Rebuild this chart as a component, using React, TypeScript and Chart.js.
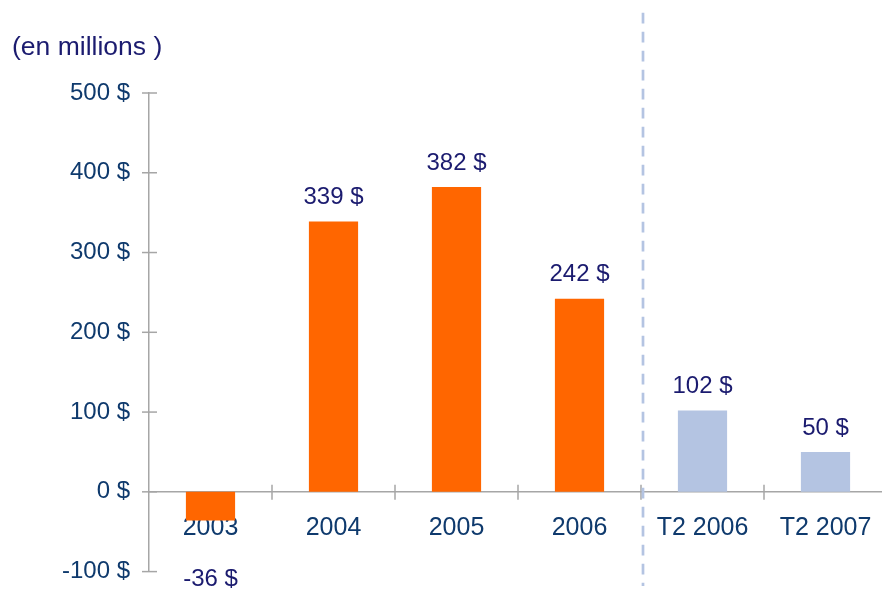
import React, { useEffect, useRef } from "react";
import { Chart, registerables } from "chart.js";

Chart.register(...registerables);

const categories = ["2003", "2004", "2005", "2006", "T2 2006", "T2 2007"];
const values = [-36, 339, 382, 242, 102, 50];
const valueLabels = ["-36 $", "339 $", "382 $", "242 $", "102 $", "50 $"];
const barColors = ["#ff6600", "#ff6600", "#ff6600", "#ff6600", "#b4c4e2", "#b4c4e2"];
const yMin = -100;
const yMax = 500;
const yStep = 100;
const unitLabel = "(en millions )";
const dividerAfterIndex = 3;

const TICK_COLOR = "#0f3a6d";
const LABEL_COLOR = "#1b1b6f";
const AXIS_COLOR = "#a6a6a6";
const FONT = "'Liberation Sans', Arial, sans-serif";

const decorPlugin = {
  id: "decor",
  afterDraw(chart: any) {
    const ctx = chart.ctx;
    const xs = chart.scales.x;
    const ys = chart.scales.y;
    const area = chart.chartArea;
    const zeroY = ys.getPixelForValue(0);
    ctx.save();
    ctx.strokeStyle = AXIS_COLOR;
    ctx.lineWidth = 1.5;
    ys.ticks.forEach((t: any) => {
      const py = ys.getPixelForValue(t.value);
      ctx.beginPath();
      ctx.moveTo(area.left - 7, py);
      ctx.lineTo(area.left + 8, py);
      ctx.stroke();
    });
    for (let i = 0; i < categories.length - 1; i++) {
      const px = (xs.getPixelForValue(i) + xs.getPixelForValue(i + 1)) / 2;
      ctx.beginPath();
      ctx.moveTo(px, zeroY - 7);
      ctx.lineTo(px, zeroY + 8);
      ctx.stroke();
    }
    const dx = (xs.getPixelForValue(dividerAfterIndex) + xs.getPixelForValue(dividerAfterIndex + 1)) / 2 + 2;
    ctx.strokeStyle = "#b4c4e2";
    ctx.lineWidth = 2.7;
    ctx.setLineDash([10.7, 8.3]);
    ctx.beginPath();
    ctx.moveTo(dx, 12.7);
    ctx.lineTo(dx, 586);
    ctx.stroke();
    ctx.setLineDash([]);
    const meta = chart.getDatasetMeta(0);
    ctx.fillStyle = LABEL_COLOR;
    ctx.font = `24px ${FONT}`;
    ctx.textAlign = "center";
    ctx.textBaseline = "middle";
    meta.data.forEach((bar: any, i: number) => {
      const v = values[i];
      const y = v >= 0 ? bar.y - 24 : bar.y + 59;
      ctx.fillText(valueLabels[i], bar.x, y);
    });
    ctx.font = `26.5px ${FONT}`;
    ctx.textAlign = "left";
    ctx.fillText(unitLabel, 12, 48);
    ctx.restore();
  },
};

export default function App() {
  const ref = useRef<HTMLCanvasElement>(null);
  useEffect(() => {
    if (!ref.current) return;
    const chart = new Chart(ref.current, {
      type: "bar",
      data: {
        labels: categories,
        datasets: [
          {
            data: values,
            backgroundColor: barColors,
            borderWidth: 0,
            barPercentage: 0.4,
            categoryPercentage: 1,
          },
        ],
      },
      options: {
        responsive: false,
        animation: false,
        layout: { padding: { left: 0, top: 93, right: 8, bottom: 7 } },
        plugins: { legend: { display: false }, tooltip: { enabled: false } },
        scales: {
          x: {
            position: { y: 0 } as any,
            grid: { display: false, drawTicks: false, tickLength: 0 },
            border: { display: true, color: AXIS_COLOR, width: 1.5 },
            ticks: {
              color: TICK_COLOR,
              font: { family: FONT, size: 25 },
              padding: 21,
              maxRotation: 0,
              autoSkip: false,
            },
          },
          y: {
            min: yMin,
            max: yMax,
            grid: { display: false, drawTicks: false, tickLength: 0 },
            border: { display: true, color: AXIS_COLOR, width: 1.5 },
            ticks: {
              stepSize: yStep,
              color: TICK_COLOR,
              font: { family: FONT, size: 24 },
              padding: 19,
              callback: (v: any) => `${v} $`,
            },
            afterFit: (scale: any) => {
              scale.width = 149;
            },
          },
        },
      },
      plugins: [decorPlugin],
    });
    return () => chart.destroy();
  }, []);
  return (
    <div style={{ position: "fixed", left: 0, top: 0, width: 882, height: 591, overflow: "hidden", background: "#fff" }}>
      <canvas ref={ref} width={895} height={605} style={{ display: "block" }} />
    </div>
  );
}
